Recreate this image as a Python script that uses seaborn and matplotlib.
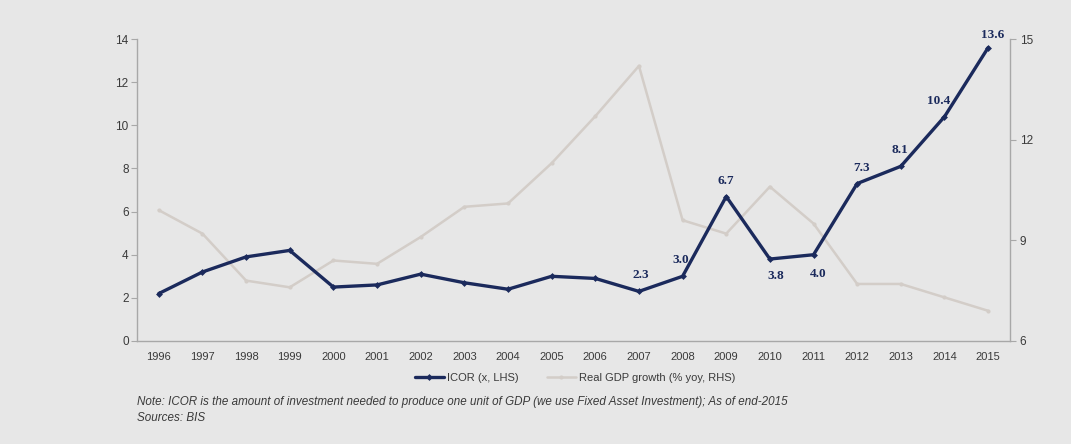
import matplotlib
matplotlib.use("Agg")
import matplotlib.pyplot as plt
import seaborn as sns
import pandas as pd
from matplotlib.ticker import FixedLocator, NullFormatter

years = [str(y) for y in range(1996, 2016)]
icor = [2.2, 3.2, 3.9, 4.2, 2.5, 2.6, 3.1, 2.7, 2.4, 3.0,
        2.9, 2.3, 3.0, 6.7, 3.8, 4.0, 7.3, 8.1, 10.4, 13.6]
gdp_growth = [9.9, 9.2, 7.8, 7.6, 8.4, 8.3, 9.1, 10.0, 10.1, 11.3,
              12.7, 14.2, 9.6, 9.2, 10.6, 9.5, 7.7, 7.7, 7.3, 6.9]
labelled_years = ["2007", "2008", "2009", "2010", "2011", "2012", "2013", "2014", "2015"]

BG = "#e7e7e7"
NAVY = "#1b2a5c"
LIGHT = "#d3cdc8"
AXIS = "#a8a8a8"
TXT = "#3a3a3a"

sns.set_theme(style="white")
plt.rcParams["font.family"] = ["Liberation Sans Narrow", "Liberation Sans", "DejaVu Sans"]

df = pd.DataFrame({"year": years, "icor": icor, "gdp": gdp_growth})

fig = plt.figure(figsize=(10.71, 4.44), dpi=100, facecolor=BG)
ax = fig.add_axes([0.1279, 0.232, 0.8151, 0.680])
ax.set_facecolor(BG)
ax2 = ax.twinx()

sns.lineplot(data=df, x="year", y="gdp", ax=ax2, color=LIGHT, linewidth=1.8,
             marker="o", markersize=3, markeredgewidth=0, sort=False,
             label="Real GDP growth (% yoy, RHS)", legend=False)
sns.lineplot(data=df, x="year", y="icor", ax=ax, color=NAVY, linewidth=2.4,
             marker="D", markersize=3.5, markeredgewidth=0, sort=False,
             label="ICOR (x, LHS)", legend=False)
ax.set_zorder(ax2.get_zorder() + 1)
ax.patch.set_visible(False)
ax2.patch.set_visible(True)
ax2.set_facecolor(BG)

n = len(years)
ax.set_xlim(-0.5, n - 0.5)
ax.set_ylim(0, 14)
ax.set_yticks(range(0, 15, 2))
ax2.set_ylim(6, 15)
ax2.set_yticks([6, 9, 12, 15])
ax.set_xlabel("")
ax.set_ylabel("")
ax2.set_ylabel("")

# category-boundary tick marks on the x axis
ax.xaxis.set_minor_locator(FixedLocator([i - 0.5 for i in range(n + 1)]))
ax.xaxis.set_minor_formatter(NullFormatter())
ax.tick_params(axis="x", which="major", length=0, pad=8, labelsize=8, labelcolor=TXT)
ax.tick_params(axis="x", which="minor", length=4, width=0.8, color=AXIS, direction="out")
ax.tick_params(axis="y", which="major", length=4, width=0.8, color=AXIS, labelsize=8.5,
               labelcolor=TXT, pad=2)
ax2.tick_params(axis="y", which="major", length=4, width=0.8, color=AXIS, labelsize=8.5,
                labelcolor=TXT, pad=3)
ax2.tick_params(axis="x", length=0)

for a in (ax, ax2):
    for s in a.spines.values():
        s.set_visible(False)
ax.spines["left"].set_visible(True)
ax.spines["bottom"].set_visible(True)
ax2.spines["right"].set_visible(True)
for s in (ax.spines["left"], ax.spines["bottom"], ax2.spines["right"]):
    s.set_color(AXIS)
    s.set_linewidth(1.0)

# value labels on the ICOR line (offsets in points, label centred there)
offsets = {
    "2007": (1, 12),
    "2008": (-1, 12),
    "2009": (0, 11.5),
    "2010": (4, -12),
    "2011": (3, -14),
    "2012": (3, 11.5),
    "2013": (-1, 11.5),
    "2014": (-4, 11.5),
    "2015": (3, 9),
}
for yr in labelled_years:
    i = years.index(yr)
    dx, dy = offsets[yr]
    ax.annotate(f"{icor[i]:.1f}", xy=(i, icor[i]), xytext=(dx, dy),
                textcoords="offset points", ha="center", va="center", fontsize=9.5,
                fontweight="bold", color=NAVY,
                family=["Liberation Serif", "DejaVu Serif"])

h1, l1 = ax.get_legend_handles_labels()
h2, l2 = ax2.get_legend_handles_labels()
fig.legend(h1 + h2, l1 + l2, loc="center", bbox_to_anchor=(0.537, 0.149), ncol=2,
           frameon=False, fontsize=8, labelcolor=TXT, handlelength=2.6,
           handletextpad=0.3, columnspacing=2.5)

fig.text(0.128, 0.094, "Note: ICOR is the amount of investment needed to produce one unit of GDP "
         "(we use Fixed Asset Investment); As of end-2015",
         style="italic", fontsize=8.4, color=TXT, va="center")
fig.text(0.128, 0.058, "Sources: BIS", style="italic", fontsize=8.4, color=TXT, va="center")

fig.savefig("out.png", dpi=100, facecolor=BG)
